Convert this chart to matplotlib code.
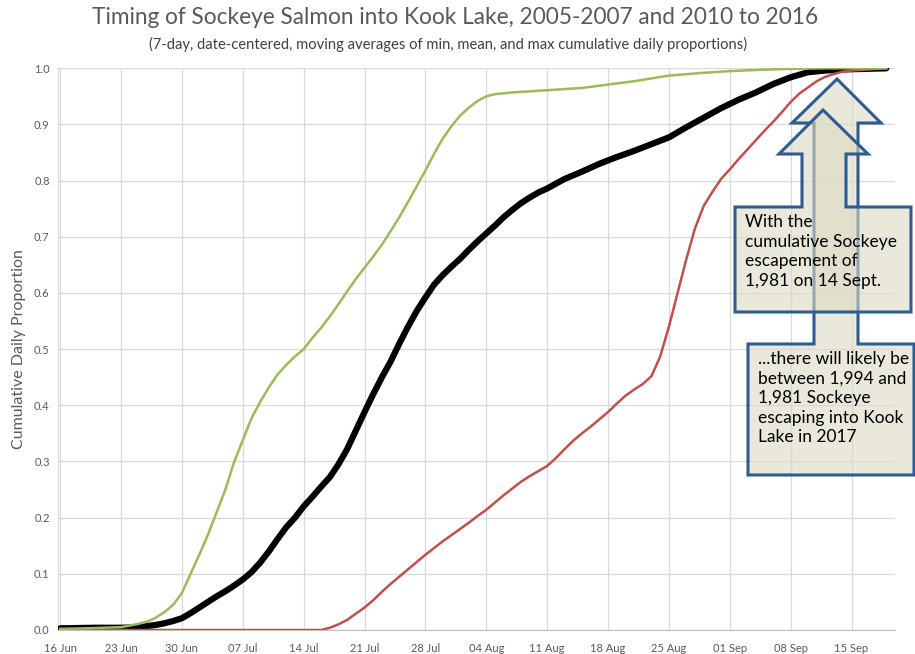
import numpy as np
import matplotlib
matplotlib.use("Agg")
import matplotlib.pyplot as plt
import matplotlib.dates as mdates
from matplotlib.patches import Polygon

plt.rcParams['font.family'] = ['Lato', 'DejaVu Sans']

# days after 16 June, and cumulative daily proportions
start = np.datetime64('2016-06-16')

max_days = [0, 3, 7, 9, 10, 11, 12, 13, 14, 15, 16, 17, 18, 19, 20, 21, 22, 23, 24, 25,
            26, 27, 28, 29, 30, 31, 32, 33, 34, 35, 36, 37, 38, 39, 40, 41, 42, 43, 44, 45,
            46, 47, 48, 49, 50, 52, 54, 56, 58, 60, 62, 64, 66, 68, 70, 74, 77, 80, 84, 88, 95]
max_prop = [0.002, 0.003, 0.005, 0.011, 0.015, 0.022, 0.032, 0.045, 0.066, 0.10, 0.134, 0.17,
            0.21, 0.25, 0.299, 0.338, 0.377, 0.406, 0.432, 0.455, 0.472, 0.487, 0.50, 0.52,
            0.538, 0.558, 0.58, 0.603, 0.625, 0.645, 0.665, 0.686, 0.71, 0.735, 0.762, 0.79,
            0.818, 0.848, 0.875, 0.897, 0.916, 0.93, 0.942, 0.95, 0.954, 0.957, 0.959, 0.961,
            0.963, 0.965, 0.969, 0.973, 0.977, 0.982, 0.987, 0.992, 0.995, 0.997, 0.999, 1.0, 1.0]

mean_days = [0, 4, 7, 9, 11, 12, 13, 14, 15, 16, 17, 18, 19, 20, 21, 22, 23, 24, 25, 26,
             27, 28, 29, 30, 31, 32, 33, 34, 35, 36, 37, 38, 39, 40, 41, 42, 43, 44, 45, 46,
             47, 48, 49, 50, 51, 52, 53, 54, 55, 56, 58, 60, 62, 64, 66, 68, 70, 72, 74, 76,
             78, 80, 82, 84, 86, 88, 90, 95]
mean_prop = [0.003, 0.004, 0.004, 0.005, 0.009, 0.012, 0.016, 0.021, 0.03, 0.04, 0.05, 0.06,
             0.069, 0.079, 0.09, 0.103, 0.12, 0.14, 0.162, 0.183, 0.2, 0.22, 0.237, 0.255,
             0.272, 0.295, 0.322, 0.355, 0.388, 0.42, 0.45, 0.478, 0.51, 0.54, 0.568, 0.592,
             0.615, 0.632, 0.647, 0.661, 0.677, 0.692, 0.706, 0.72, 0.735, 0.748, 0.76, 0.77,
             0.779, 0.786, 0.803, 0.816, 0.83, 0.842, 0.853, 0.865, 0.877, 0.895, 0.912, 0.929,
             0.944, 0.957, 0.972, 0.984, 0.993, 0.996, 0.998, 1.0]

min_days = [0, 30, 31, 32, 33, 34, 35, 36, 37, 38, 39, 40, 41, 42, 43, 44, 45, 46, 47, 48,
            49, 50, 51, 52, 53, 54, 55, 56, 57, 58, 59, 60, 61, 62, 63, 64, 65, 66, 67, 68,
            69, 70, 71, 72, 73, 74, 75, 76, 77, 78, 79, 80, 81, 82, 83, 84, 85, 86, 87, 88,
            89, 90, 91, 93, 95]
min_prop = [0.0, 0.0, 0.004, 0.01, 0.018, 0.029, 0.04, 0.053, 0.068, 0.082, 0.095, 0.108,
            0.121, 0.134, 0.146, 0.158, 0.169, 0.18, 0.191, 0.203, 0.214, 0.227, 0.24, 0.252,
            0.264, 0.274, 0.283, 0.292, 0.306, 0.322, 0.337, 0.35, 0.362, 0.375, 0.388, 0.403,
            0.417, 0.428, 0.438, 0.452, 0.487, 0.54, 0.6, 0.66, 0.715, 0.755, 0.78, 0.803, 0.82,
            0.838, 0.855, 0.872, 0.889, 0.905, 0.922, 0.94, 0.955, 0.966, 0.977, 0.985, 0.99,
            0.994, 0.996, 0.998, 1.0]

callout1 = "With the\ncumulative Sockeye\nescapement of\n1,981 on 14 Sept."
callout2 = "...there will likely be\nbetween 1,994 and\n1,981 Sockeye\nescaping into Kook\nLake in 2017"

W, H = 915, 654
fig = plt.figure(figsize=(W / 100, H / 100), dpi=100)
ax = fig.add_axes([58 / W, 1 - 630 / H, (895 - 58) / W, (630 - 68.3) / H])


def to_dates(days):
    return start + np.array(days).astype('timedelta64[D]')


ax.plot(to_dates(mean_days), mean_prop, color='black', lw=4.5, solid_capstyle='round', zorder=3)
ax.plot(to_dates(min_days), min_prop, color='#C0504D', lw=1.8, zorder=4)
ax.plot(to_dates(max_days), max_prop, color='#9BBB59', lw=1.8, zorder=5)

ax.set_xlim(start - np.timedelta64(6, 'h'), start + np.timedelta64(96, 'D'))
ax.set_ylim(0, 1.0)
ax.set_xticks(to_dates(np.arange(0, 92, 7)))
ax.xaxis.set_major_formatter(mdates.DateFormatter('%d %b'))
ax.set_yticks(np.arange(0, 1.01, 0.1))
ax.yaxis.set_major_formatter(matplotlib.ticker.FormatStrFormatter('%.1f'))
ax.grid(True, color='#D9D9D9', lw=0.9)
ax.set_axisbelow(True)
ax.tick_params(length=0, labelsize=8, labelcolor='#595959', pad=6)
ax.tick_params(axis='x', pad=9)
for s in ['top', 'right']:
    ax.spines[s].set_visible(False)
ax.spines['left'].set_color('#D9D9D9')
ax.spines['bottom'].set_color('#BFBFBF')
ax.set_ylabel('Cumulative Daily Proportion', fontsize=11.5, color='#595959', labelpad=6)

fig.text(0.497, 1 - 18 / H, 'Timing of Sockeye Salmon into Kook Lake, 2005-2007 and 2010 to 2016',
         ha='center', va='center', fontsize=16.3, color='#595959')
fig.text(0.49, 1 - 44 / H,
         '(7-day, date-centered, moving averages of min, mean, and max cumulative daily proportions)',
         ha='center', va='center', fontsize=10.6, color='#404040')


def up_callout(left, right, top, bottom, s_left, s_right, h_left, h_right, h_base, tip_x, tip_y, z):
    pts = [(left, bottom), (left, top), (s_left, top), (s_left, h_base), (h_left, h_base),
           (tip_x, tip_y), (h_right, h_base), (s_right, h_base), (s_right, top), (right, top),
           (right, bottom)]
    return Polygon([(x / W, 1 - y / H) for x, y in pts], closed=True, transform=fig.transFigure,
                   facecolor=(0.867, 0.851, 0.765, 0.6), edgecolor='#2E5C91', lw=2.2, zorder=z)


# the second callout sits behind the first one
fig.patches.append(up_callout(748, 914, 344, 475, 814, 858, 792, 881, 123, 837, 79, 10))
fig.text(758 / W, 1 - 351 / H, callout2, ha='left', va='top', fontsize=12.5,
         linespacing=1.27, color='black', zorder=11)
fig.patches.append(up_callout(735, 911, 207, 312, 802, 846, 779, 868, 154, 823, 110, 12))
fig.text(745 / W, 1 - 214 / H, callout1, ha='left', va='top', fontsize=12.5,
         linespacing=1.27, color='black', zorder=13)

fig.savefig('out.png', dpi=100)
